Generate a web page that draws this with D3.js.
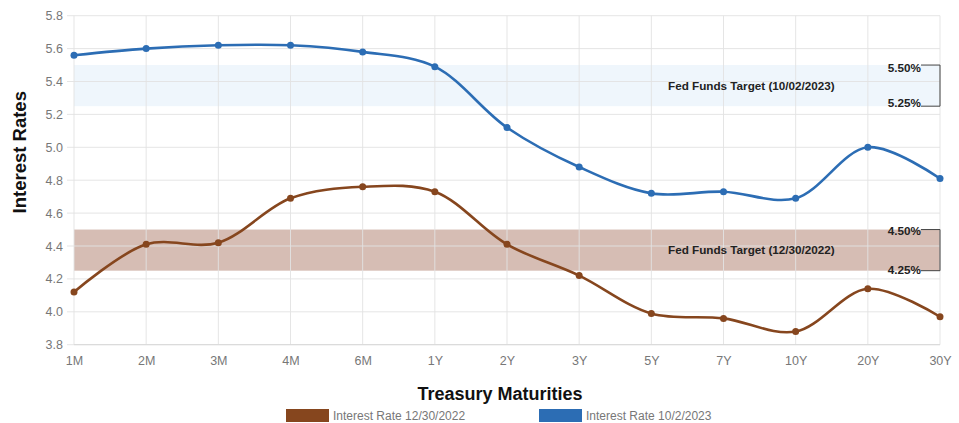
<!DOCTYPE html>
<html>
<head>
<meta charset="utf-8">
<script src="https://cdn.jsdelivr.net/npm/d3@7"></script>
<style>
  html, body { margin: 0; padding: 0; background: #fff; }
  svg { display: block; }
  .tick text { font-family: 'Liberation Sans', Arial, sans-serif; }
</style>
</head>
<body>
<div id="chart"></div>
<script>
const categories = ["1M","2M","3M","4M","6M","1Y","2Y","3Y","5Y","7Y","10Y","20Y","30Y"];
const rates2022 = [4.12, 4.41, 4.42, 4.69, 4.76, 4.73, 4.41, 4.22, 3.99, 3.96, 3.88, 4.14, 3.97];
const rates2023 = [5.56, 5.60, 5.62, 5.62, 5.58, 5.49, 5.12, 4.88, 4.72, 4.73, 4.69, 5.00, 4.81];
const seriesNames = ["Interest Rate 12/30/2022", "Interest Rate 10/2/2023"];
const yTicks = [3.8, 4.0, 4.2, 4.4, 4.6, 4.8, 5.0, 5.2, 5.4, 5.6, 5.8];
const bandLabels = ["Fed Funds Target (12/30/2022)", "Fed Funds Target (10/02/2023)"];
const bandLow = [4.25, 5.25];
const bandHigh = [4.50, 5.50];

const W = 959, H = 423;
const margin = {top: 15.7, right: 19, bottom: 78.3, left: 74};
const colors = ["#86461e", "#2c6db4"];
const bandFills = ["#d6bdb4", "#eff6fc"];
const narrow = "'Liberation Sans Narrow', 'Arial Narrow', 'Liberation Sans', Arial, sans-serif";
const regular = "'Liberation Sans', Arial, sans-serif";

const svg = d3.select("#chart").append("svg").attr("width", W).attr("height", H);
const iw = W - margin.left - margin.right, ih = H - margin.top - margin.bottom;
const g = svg.append("g").attr("transform", `translate(${margin.left},${margin.top})`);

const x = d3.scalePoint().domain(categories).range([0, iw]);
const y = d3.scaleLinear().domain([3.8, 5.8]).range([ih, 0]);

// bands
bandLow.forEach((lo, i) => {
  g.append("rect")
    .attr("x", 0).attr("width", iw)
    .attr("y", y(bandHigh[i])).attr("height", y(lo) - y(bandHigh[i]))
    .attr("fill", bandFills[i]);
});

// grid
g.append("g").selectAll("line").data(yTicks).join("line")
  .attr("x1", -7).attr("x2", iw)
  .attr("y1", d => y(d)).attr("y2", d => y(d))
  .attr("stroke", "#e2e2e2").attr("stroke-width", 1).attr("stroke-opacity", 0.9);
g.append("g").selectAll("line").data(categories).join("line")
  .attr("x1", d => x(d)).attr("x2", d => x(d))
  .attr("y1", 0).attr("y2", ih)
  .attr("stroke", "#e2e2e2").attr("stroke-width", 1).attr("stroke-opacity", 0.9);
// x axis baseline
g.append("line").attr("x1", 0).attr("x2", iw).attr("y1", ih).attr("y2", ih)
  .attr("stroke", "#d8d8d8");

// y axis labels
const yAxis = g.append("g").call(d3.axisLeft(y).tickValues(yTicks).tickFormat(d3.format(".1f")).tickSize(0).tickPadding(11));
yAxis.select(".domain").remove();
yAxis.selectAll("text").attr("fill", "#777").attr("font-size", 12.5).attr("font-family", regular);

// x axis labels
const xAxis = g.append("g").attr("transform", `translate(0,${ih})`)
  .call(d3.axisBottom(x).tickSize(0).tickPadding(11));
xAxis.select(".domain").remove();
xAxis.selectAll("text").attr("fill", "#777").attr("font-size", 12.5).attr("font-family", regular);

// band labels
const labelSize = 11.7;
bandLow.forEach((lo, i) => {
  const mid = (lo + bandHigh[i]) / 2;
  g.append("text").attr("x", 668 - margin.left).attr("y", y(mid)).attr("dy", "0.35em")
    .attr("font-family", narrow).attr("font-weight", "bold").attr("font-size", labelSize)
    .attr("fill", "#222").text(bandLabels[i]);
  // bracket
  const tx = 921 - margin.left;
  g.append("path")
    .attr("d", `M${tx},${y(bandHigh[i])}H${iw}V${y(lo)}H${tx}`)
    .attr("fill", "none").attr("stroke", "#444").attr("stroke-width", 1);
  const off = i === 1 ? [3, -3] : [1, -1];
  g.append("text").attr("x", tx).attr("y", y(bandHigh[i]) + off[0]).attr("dy", "0.35em")
    .attr("text-anchor", "end").attr("font-family", narrow).attr("font-weight", "bold")
    .attr("font-size", labelSize).attr("fill", "#222").text(bandHigh[i].toFixed(2) + "%");
  g.append("text").attr("x", tx).attr("y", y(lo) + off[1]).attr("dy", "0.35em")
    .attr("text-anchor", "end").attr("font-family", narrow).attr("font-weight", "bold")
    .attr("font-size", labelSize).attr("fill", "#222").text(lo.toFixed(2) + "%");
});

// series
const line = d3.line().x((d, i) => x(categories[i])).y(d => y(d)).curve(d3.curveCatmullRom.alpha(0.5));
[rates2022, rates2023].forEach((vals, s) => {
  g.append("path").datum(vals).attr("d", line)
    .attr("fill", "none").attr("stroke", colors[s]).attr("stroke-width", 2.6)
    .attr("stroke-linejoin", "round");
  g.append("g").selectAll("circle").data(vals).join("circle")
    .attr("cx", (d, i) => x(categories[i])).attr("cy", d => y(d)).attr("r", 3.5)
    .attr("fill", colors[s]);
});

// axis titles
svg.append("text").attr("transform", `translate(26,${margin.top + y(4.97)}) rotate(-90)`)
  .attr("text-anchor", "middle").attr("font-family", narrow).attr("font-weight", "bold")
  .attr("font-size", 18.5).attr("fill", "#111").text("Interest Rates");
svg.append("text").attr("x", 500).attr("y", 400)
  .attr("text-anchor", "middle").attr("font-family", narrow).attr("font-weight", "bold")
  .attr("font-size", 18).attr("fill", "#111").text("Treasury Maturities");

// legend
const legendX = [286, 539];
seriesNames.forEach((name, s) => {
  svg.append("rect").attr("x", legendX[s]).attr("y", 409).attr("width", 43).attr("height", 13)
    .attr("fill", colors[s]);
  svg.append("text").attr("x", legendX[s] + 47).attr("y", 416).attr("dy", "0.35em")
    .attr("font-family", regular).attr("font-size", 12).attr("fill", "#777").text(name);
});
</script>
</body>
</html>
